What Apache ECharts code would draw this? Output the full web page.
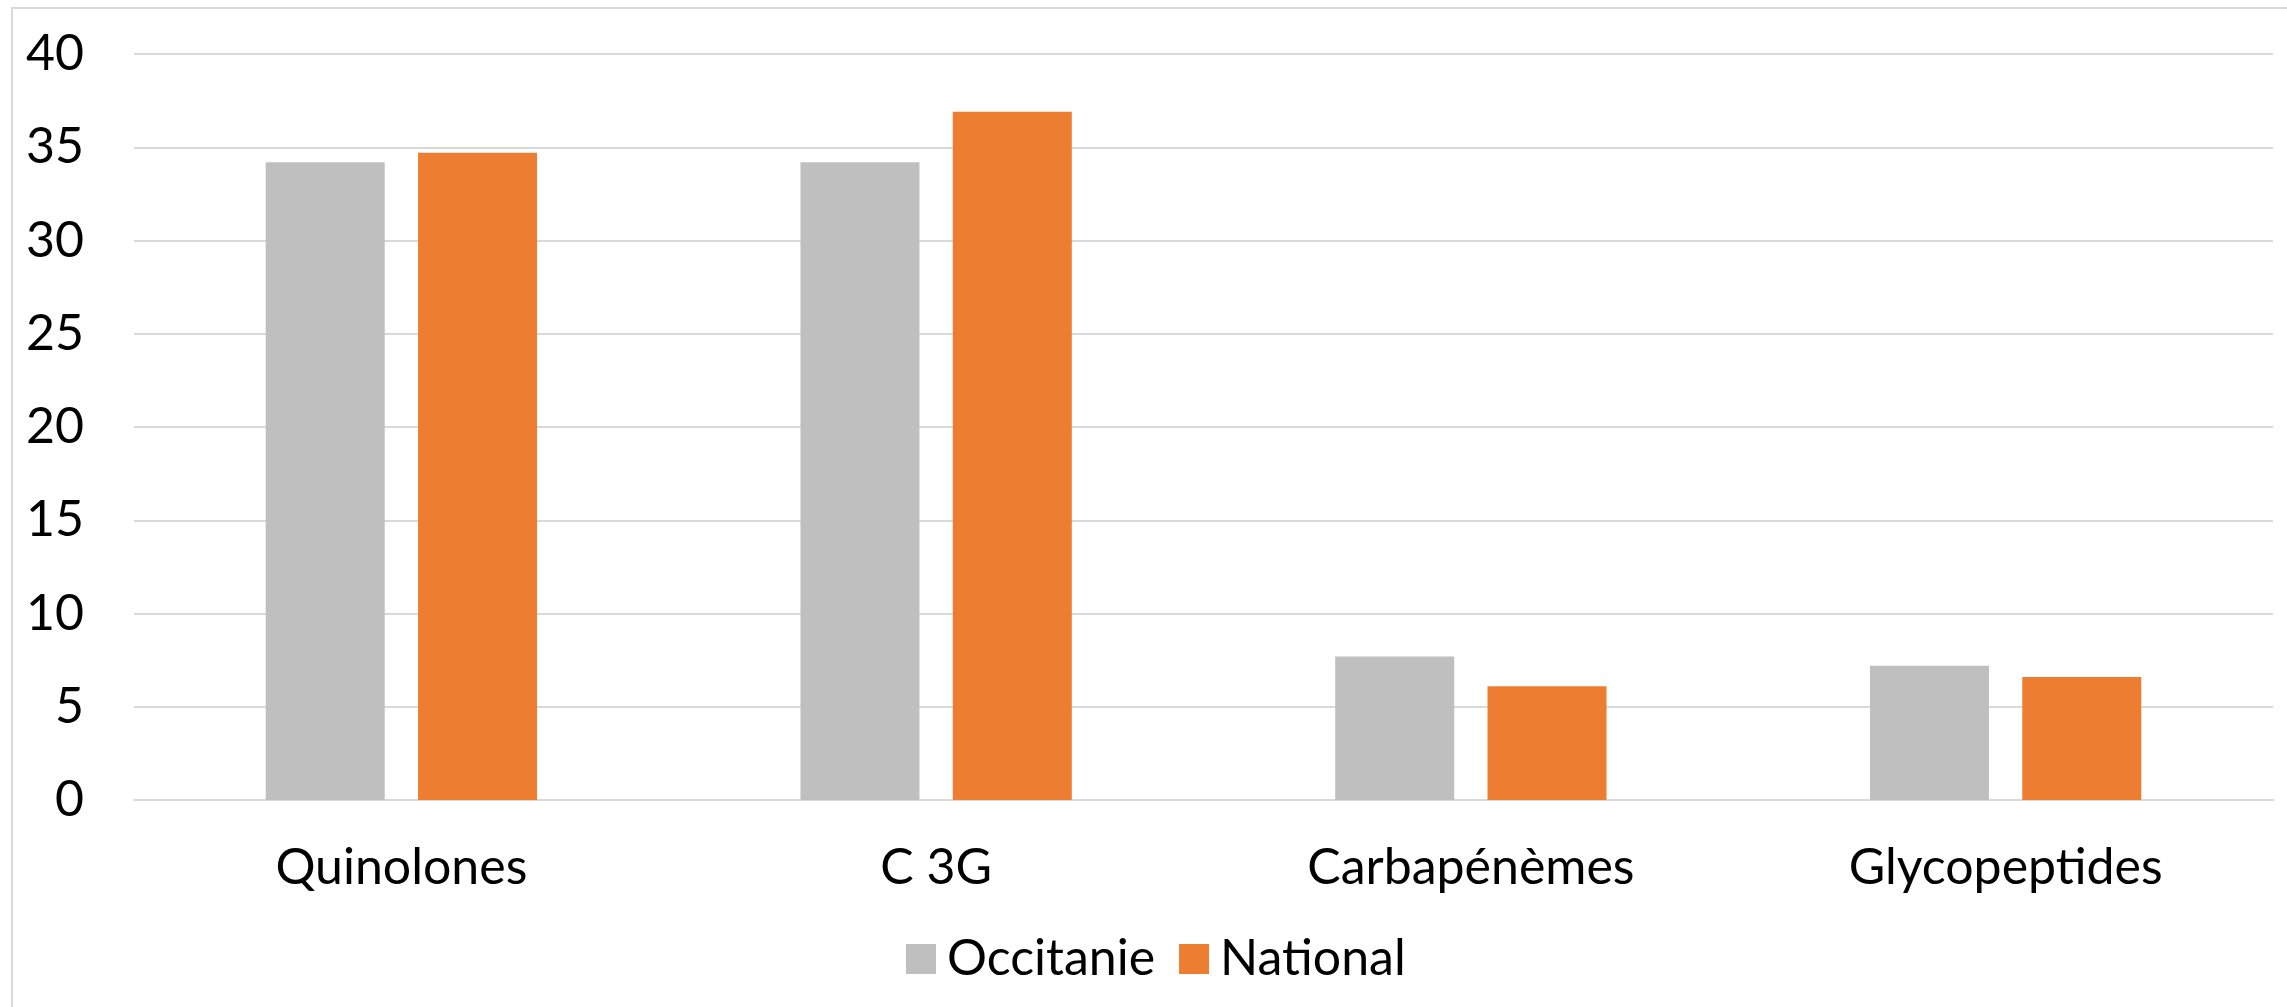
<!DOCTYPE html>
<html>
<head>
<meta charset="utf-8">
<script src="https://cdn.jsdelivr.net/npm/echarts@6/dist/echarts.min.js"></script>
<style>
html,body{margin:0;padding:0;background:#fff;}
#chart{width:2287px;height:1007px;}
</style>
</head>
<body>
<div id="chart"></div>
<script>
const categories = ["Quinolones", "C 3G", "Carbapénèmes", "Glycopeptides"];
const occitanie = [34.2, 34.2, 7.7, 7.2];
const national = [34.7, 36.9, 6.1, 6.6];
const seriesNames = ["Occitanie", "National"];
const yMin = 0, yMax = 40, yInterval = 5;

const FONT = "Lato";
const FS = 50;
const chart = echarts.init(document.getElementById('chart'), null, {renderer: 'canvas'});
chart.setOption({
  animation: false,
  backgroundColor: '#ffffff',
  graphic: [{
    type: 'rect',
    shape: {x: 12, y: 8, width: 2300, height: 1020},
    style: {fill: 'none', stroke: '#d9d9d9', lineWidth: 2},
    silent: true, z: -1
  }],
  grid: {left: 134, right: 14, top: 54, bottom: 207, containLabel: false},
  legend: {
    data: seriesNames,
    left: 901, top: 929,
    itemWidth: 30, itemHeight: 30, itemGap: 24,
    icon: 'rect',
    textStyle: {fontFamily: FONT, fontSize: FS, color: '#000', padding: [0, 0, 0, 6]}
  },
  xAxis: {
    type: 'category',
    data: categories,
    axisLine: {show: true, lineStyle: {color: '#d9d9d9', width: 2}},
    axisTick: {show: false},
    axisLabel: {fontFamily: FONT, fontSize: FS, color: '#000', margin: 43}
  },
  yAxis: {
    type: 'value',
    min: yMin, max: yMax, interval: yInterval,
    axisLine: {show: false},
    axisTick: {show: false},
    splitLine: {lineStyle: {color: '#d9d9d9', width: 2}},
    axisLabel: {fontFamily: FONT, fontSize: FS, color: '#000', margin: 50}
  },
  series: [
    {name: seriesNames[0], type: 'bar', data: occitanie, barWidth: 119, barGap: '28%', itemStyle: {color: '#BFBFBF'}},
    {name: seriesNames[1], type: 'bar', data: national, barWidth: 119, itemStyle: {color: '#ED7D31'}}
  ]
});
</script>
</body>
</html>
